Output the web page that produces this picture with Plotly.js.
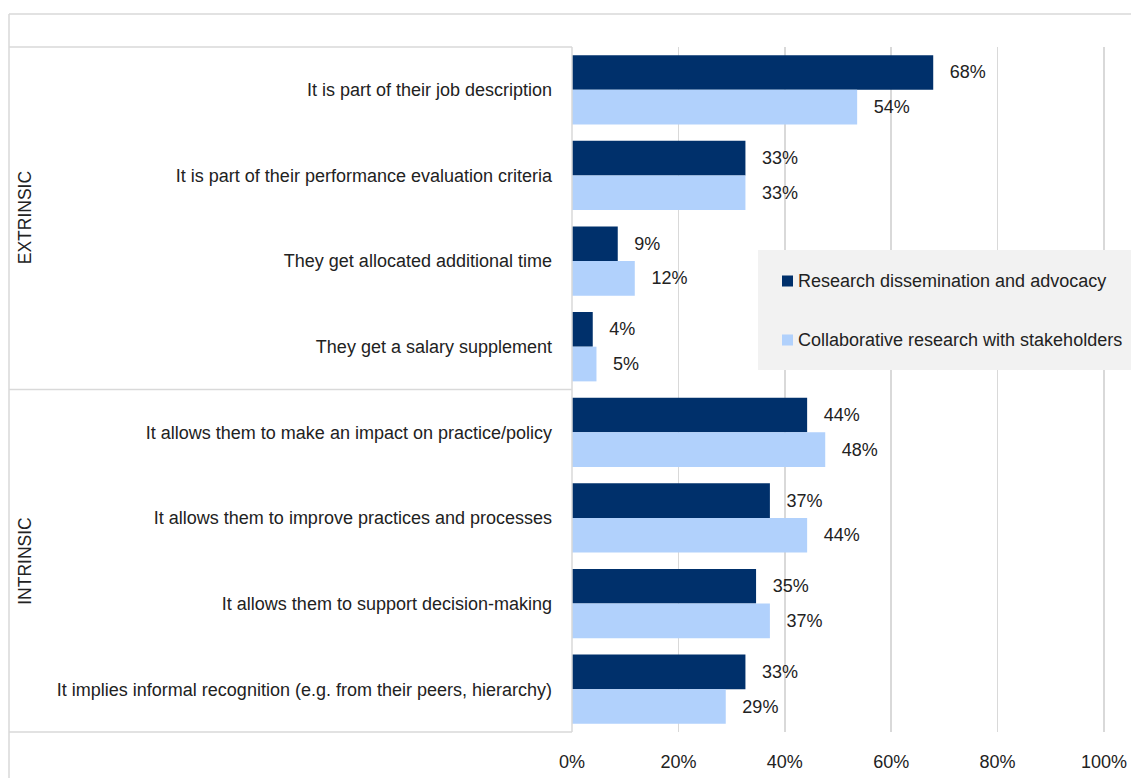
<!DOCTYPE html>
<html>
<head>
<meta charset="utf-8">
<script src="https://cdn.plot.ly/plotly-3.0.1.min.js"></script>
<style>html,body{margin:0;padding:0;background:#fff;}#chart{width:1131px;height:778px;}</style>
</head>
<body>
<div id="chart"></div>
<script>
// ---- data ----
const categories = [
  "It is part of their job description",
  "It is part of their performance evaluation criteria",
  "They get allocated additional time",
  "They get a salary supplement",
  "It allows them to make an impact on practice/policy",
  "It allows them to improve practices and processes",
  "It allows them to support decision-making",
  "It implies informal recognition (e.g. from their peers, hierarchy)"
];
const seriesNames = ["Research dissemination and advocacy", "Collaborative research with stakeholders"];
const dissemination = [67.9, 32.6, 8.6, 3.9, 44.2, 37.2, 34.6, 32.6];
const collaborative = [53.6, 32.6, 11.8, 4.6, 47.6, 44.2, 37.2, 28.9];
const groupLabels = ["EXTRINSIC", "INTRINSIC"];
const groupSizes = [4, 4];
const xTicks = [0, 20, 40, 60, 80, 100];

// ---- layout helpers (pixel -> paper) ----
const W = 1131, H = 778;
const px = x => x / W;
const py = y => 1 - y / H;
const FONT = "Liberation Sans, Arial, sans-serif";
const FS = 18;
const TXT = "#222222";
const LINE = "#d9d9d9";
const colors = ["#00306b", "#b1d1fc"];

const plotTop = 47, plotBottom = 732, plotLeft = 572;

const traces = [dissemination, collaborative].map((vals, i) => ({
  type: "bar",
  orientation: "h",
  name: seriesNames[i],
  y: categories,
  x: vals,
  marker: {color: colors[i]},
  texttemplate: "\u00a0\u00a0\u2009%{x:.0f}%",
  textposition: "outside",
  constraintext: "none",
  cliponaxis: false,
  textfont: {family: FONT, size: FS, color: TXT},
  hoverinfo: "x+y"
}));

const shapes = [];
const line = (x0, y0, x1, y1) => shapes.push({type: "line", xref: "paper", yref: "paper",
  x0: px(x0), y0: py(y0), x1: px(x1), y1: py(y1), line: {color: LINE, width: 1.5}});
// outer frame
line(9, 14, W, 14);
line(9, 14, 9, H);
// inner category box
line(9, plotTop, plotLeft, plotTop);
line(9, plotBottom, plotLeft, plotBottom);
line(plotLeft, plotTop, plotLeft, plotBottom);
// group dividers and labels
const pitch = (plotBottom - plotTop) / categories.length;
let acc = 0;
const annotations = [];
groupSizes.forEach((n, gi) => {
  const yStart = plotTop + acc * pitch;
  const yEnd = plotTop + (acc + n) * pitch;
  if (gi > 0) line(9, yStart, plotLeft, yStart);
  annotations.push({xref: "paper", yref: "paper", x: px(25), y: py((yStart + yEnd) / 2),
    text: groupLabels[gi], showarrow: false, textangle: -90,
    font: {family: FONT, size: 17.5, color: TXT}, xanchor: "center", yanchor: "middle"});
  acc += n;
});

// manual legend
shapes.push({type: "rect", xref: "paper", yref: "paper", x0: px(758), x1: px(W), y0: py(370), y1: py(250),
  fillcolor: "#f2f2f2", line: {width: 0}, layer: "above"});
const legendY = [281, 340];
seriesNames.forEach((nm, i) => {
  shapes.push({type: "rect", xref: "paper", yref: "paper", x0: px(782), x1: px(793),
    y0: py(legendY[i] + 5.5), y1: py(legendY[i] - 5.5), fillcolor: colors[i], line: {width: 0}, layer: "above"});
  annotations.push({xref: "paper", yref: "paper", x: px(796), y: py(legendY[i]), text: nm,
    showarrow: false, xanchor: "left", yanchor: "middle", font: {family: FONT, size: FS, color: TXT}});
});

const layout = {
  width: W, height: H,
  margin: {l: 0, r: 0, t: 0, b: 0},
  paper_bgcolor: "#ffffff",
  plot_bgcolor: "rgba(0,0,0,0)",
  showlegend: false,
  barmode: "group",
  bargap: 0.19,
  bargroupgap: 0,
  font: {family: FONT, size: FS, color: TXT},
  xaxis: {
    domain: [px(plotLeft), 1],
    range: [0, (W - plotLeft) / 5.32],
    tickvals: xTicks,
    ticktext: xTicks.map(v => v + "%"),
    showgrid: true, gridcolor: LINE, gridwidth: 1.5,
    zeroline: false, showline: false,
    ticks: "", ticklabelstandoff: 17,
    tickfont: {family: FONT, size: FS, color: TXT},
    automargin: false, fixedrange: true
  },
  yaxis: {
    domain: [py(plotBottom), py(plotTop)],
    autorange: "reversed",
    type: "category",
    showgrid: false, zeroline: false, showline: false,
    ticks: "", ticklabelstandoff: 19,
    tickfont: {family: FONT, size: FS, color: TXT},
    automargin: false, fixedrange: true
  },
  shapes: shapes,
  annotations: annotations
};

Plotly.newPlot("chart", traces, layout, {displayModeBar: false, staticPlot: true});
</script>
</body>
</html>
